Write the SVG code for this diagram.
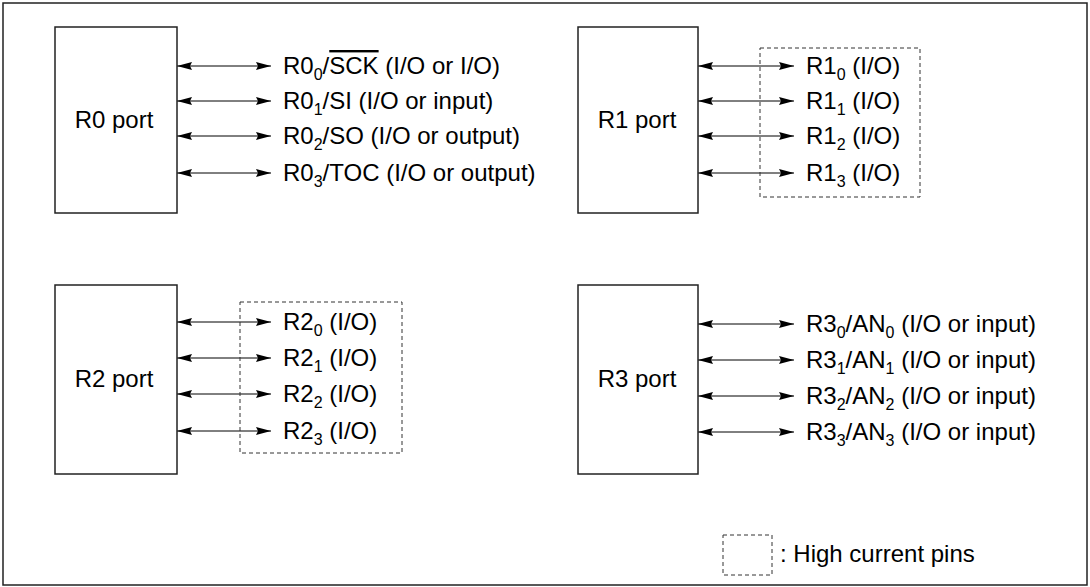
<svg xmlns="http://www.w3.org/2000/svg" width="1090" height="587" viewBox="0 0 1090 587">
<style>
.box{fill:#fff;stroke:#222;stroke-width:1.5}
.hc{fill:none;stroke:#333;stroke-width:1;stroke-dasharray:4,3}
.ln{stroke:#000;stroke-width:1;fill:none;marker-start:url(#ah);marker-end:url(#ah)}
text{font-family:"Liberation Sans",Arial,sans-serif;font-size:24px;fill:#000}
.sub{font-size:16px}
</style>
<defs>
<marker id="ah" viewBox="0 0 15 8" refX="15" refY="4" markerWidth="15" markerHeight="8" markerUnits="userSpaceOnUse" orient="auto-start-reverse">
<path d="M0,0 L15,4 L0,8 L2,4 Z" fill="#000"/>
</marker>
</defs>
<rect x="3" y="3" width="1084" height="582" fill="none" stroke="#222" stroke-width="1.5"/>
<g id="connectors">
<line class="ln" x1="177" y1="66" x2="271" y2="66"/>
<line class="ln" x1="177" y1="101" x2="271" y2="101"/>
<line class="ln" x1="177" y1="136" x2="271" y2="136"/>
<line class="ln" x1="177" y1="173" x2="271" y2="173"/>
<line class="ln" x1="698" y1="66" x2="794" y2="66"/>
<line class="ln" x1="698" y1="101" x2="794" y2="101"/>
<line class="ln" x1="698" y1="136" x2="794" y2="136"/>
<line class="ln" x1="698" y1="173" x2="794" y2="173"/>
<line class="ln" x1="177" y1="322" x2="271" y2="322"/>
<line class="ln" x1="177" y1="358" x2="271" y2="358"/>
<line class="ln" x1="177" y1="394" x2="271" y2="394"/>
<line class="ln" x1="177" y1="431" x2="271" y2="431"/>
<line class="ln" x1="698" y1="324" x2="794" y2="324"/>
<line class="ln" x1="698" y1="360" x2="794" y2="360"/>
<line class="ln" x1="698" y1="396" x2="794" y2="396"/>
<line class="ln" x1="698" y1="432" x2="794" y2="432"/>
</g>
<g id="r0">
<rect class="box" x="55" y="27" width="122" height="186"/>
<text x="114" y="128" text-anchor="middle">R0 port</text>
<text x="283" y="74">R0<tspan class="sub" dy="6">0</tspan><tspan dy="-6">/</tspan><tspan text-decoration="overline">SCK</tspan> (I/O or I/O)</text>
<text x="283" y="109">R0<tspan class="sub" dy="6">1</tspan><tspan dy="-6">/SI (I/O or input)</tspan></text>
<text x="283" y="144">R0<tspan class="sub" dy="6">2</tspan><tspan dy="-6">/SO (I/O or output)</tspan></text>
<text x="283" y="181">R0<tspan class="sub" dy="6">3</tspan><tspan dy="-6">/TOC (I/O or output)</tspan></text>
</g>
<g id="r1">
<rect class="box" x="578" y="27" width="120" height="186"/>
<text x="637" y="128" text-anchor="middle">R1 port</text>
<rect class="hc" x="760" y="48" width="160" height="149"/>
<text x="806" y="74">R1<tspan class="sub" dy="6">0</tspan><tspan dy="-6"> (I/O)</tspan></text>
<text x="806" y="109">R1<tspan class="sub" dy="6">1</tspan><tspan dy="-6"> (I/O)</tspan></text>
<text x="806" y="144">R1<tspan class="sub" dy="6">2</tspan><tspan dy="-6"> (I/O)</tspan></text>
<text x="806" y="181">R1<tspan class="sub" dy="6">3</tspan><tspan dy="-6"> (I/O)</tspan></text>
</g>
<g id="r2">
<rect class="box" x="55" y="285" width="122" height="189"/>
<text x="114" y="387" text-anchor="middle">R2 port</text>
<rect class="hc" x="240" y="302" width="162" height="151"/>
<text x="283" y="330">R2<tspan class="sub" dy="6">0</tspan><tspan dy="-6"> (I/O)</tspan></text>
<text x="283" y="366">R2<tspan class="sub" dy="6">1</tspan><tspan dy="-6"> (I/O)</tspan></text>
<text x="283" y="402">R2<tspan class="sub" dy="6">2</tspan><tspan dy="-6"> (I/O)</tspan></text>
<text x="283" y="439">R2<tspan class="sub" dy="6">3</tspan><tspan dy="-6"> (I/O)</tspan></text>
</g>
<g id="r3">
<rect class="box" x="578" y="285" width="120" height="189"/>
<text x="637" y="387" text-anchor="middle">R3 port</text>
<text x="806" y="332">R3<tspan class="sub" dy="6">0</tspan><tspan dy="-6">/AN</tspan><tspan class="sub" dy="6">0</tspan><tspan dy="-6"> (I/O or input)</tspan></text>
<text x="806" y="368">R3<tspan class="sub" dy="6">1</tspan><tspan dy="-6">/AN</tspan><tspan class="sub" dy="6">1</tspan><tspan dy="-6"> (I/O or input)</tspan></text>
<text x="806" y="404">R3<tspan class="sub" dy="6">2</tspan><tspan dy="-6">/AN</tspan><tspan class="sub" dy="6">2</tspan><tspan dy="-6"> (I/O or input)</tspan></text>
<text x="806" y="440">R3<tspan class="sub" dy="6">3</tspan><tspan dy="-6">/AN</tspan><tspan class="sub" dy="6">3</tspan><tspan dy="-6"> (I/O or input)</tspan></text>
</g>
<g id="legend">
<rect class="hc" x="723" y="535" width="49" height="40"/>
<text x="780" y="562">: High current pins</text>
</g>
</svg>
